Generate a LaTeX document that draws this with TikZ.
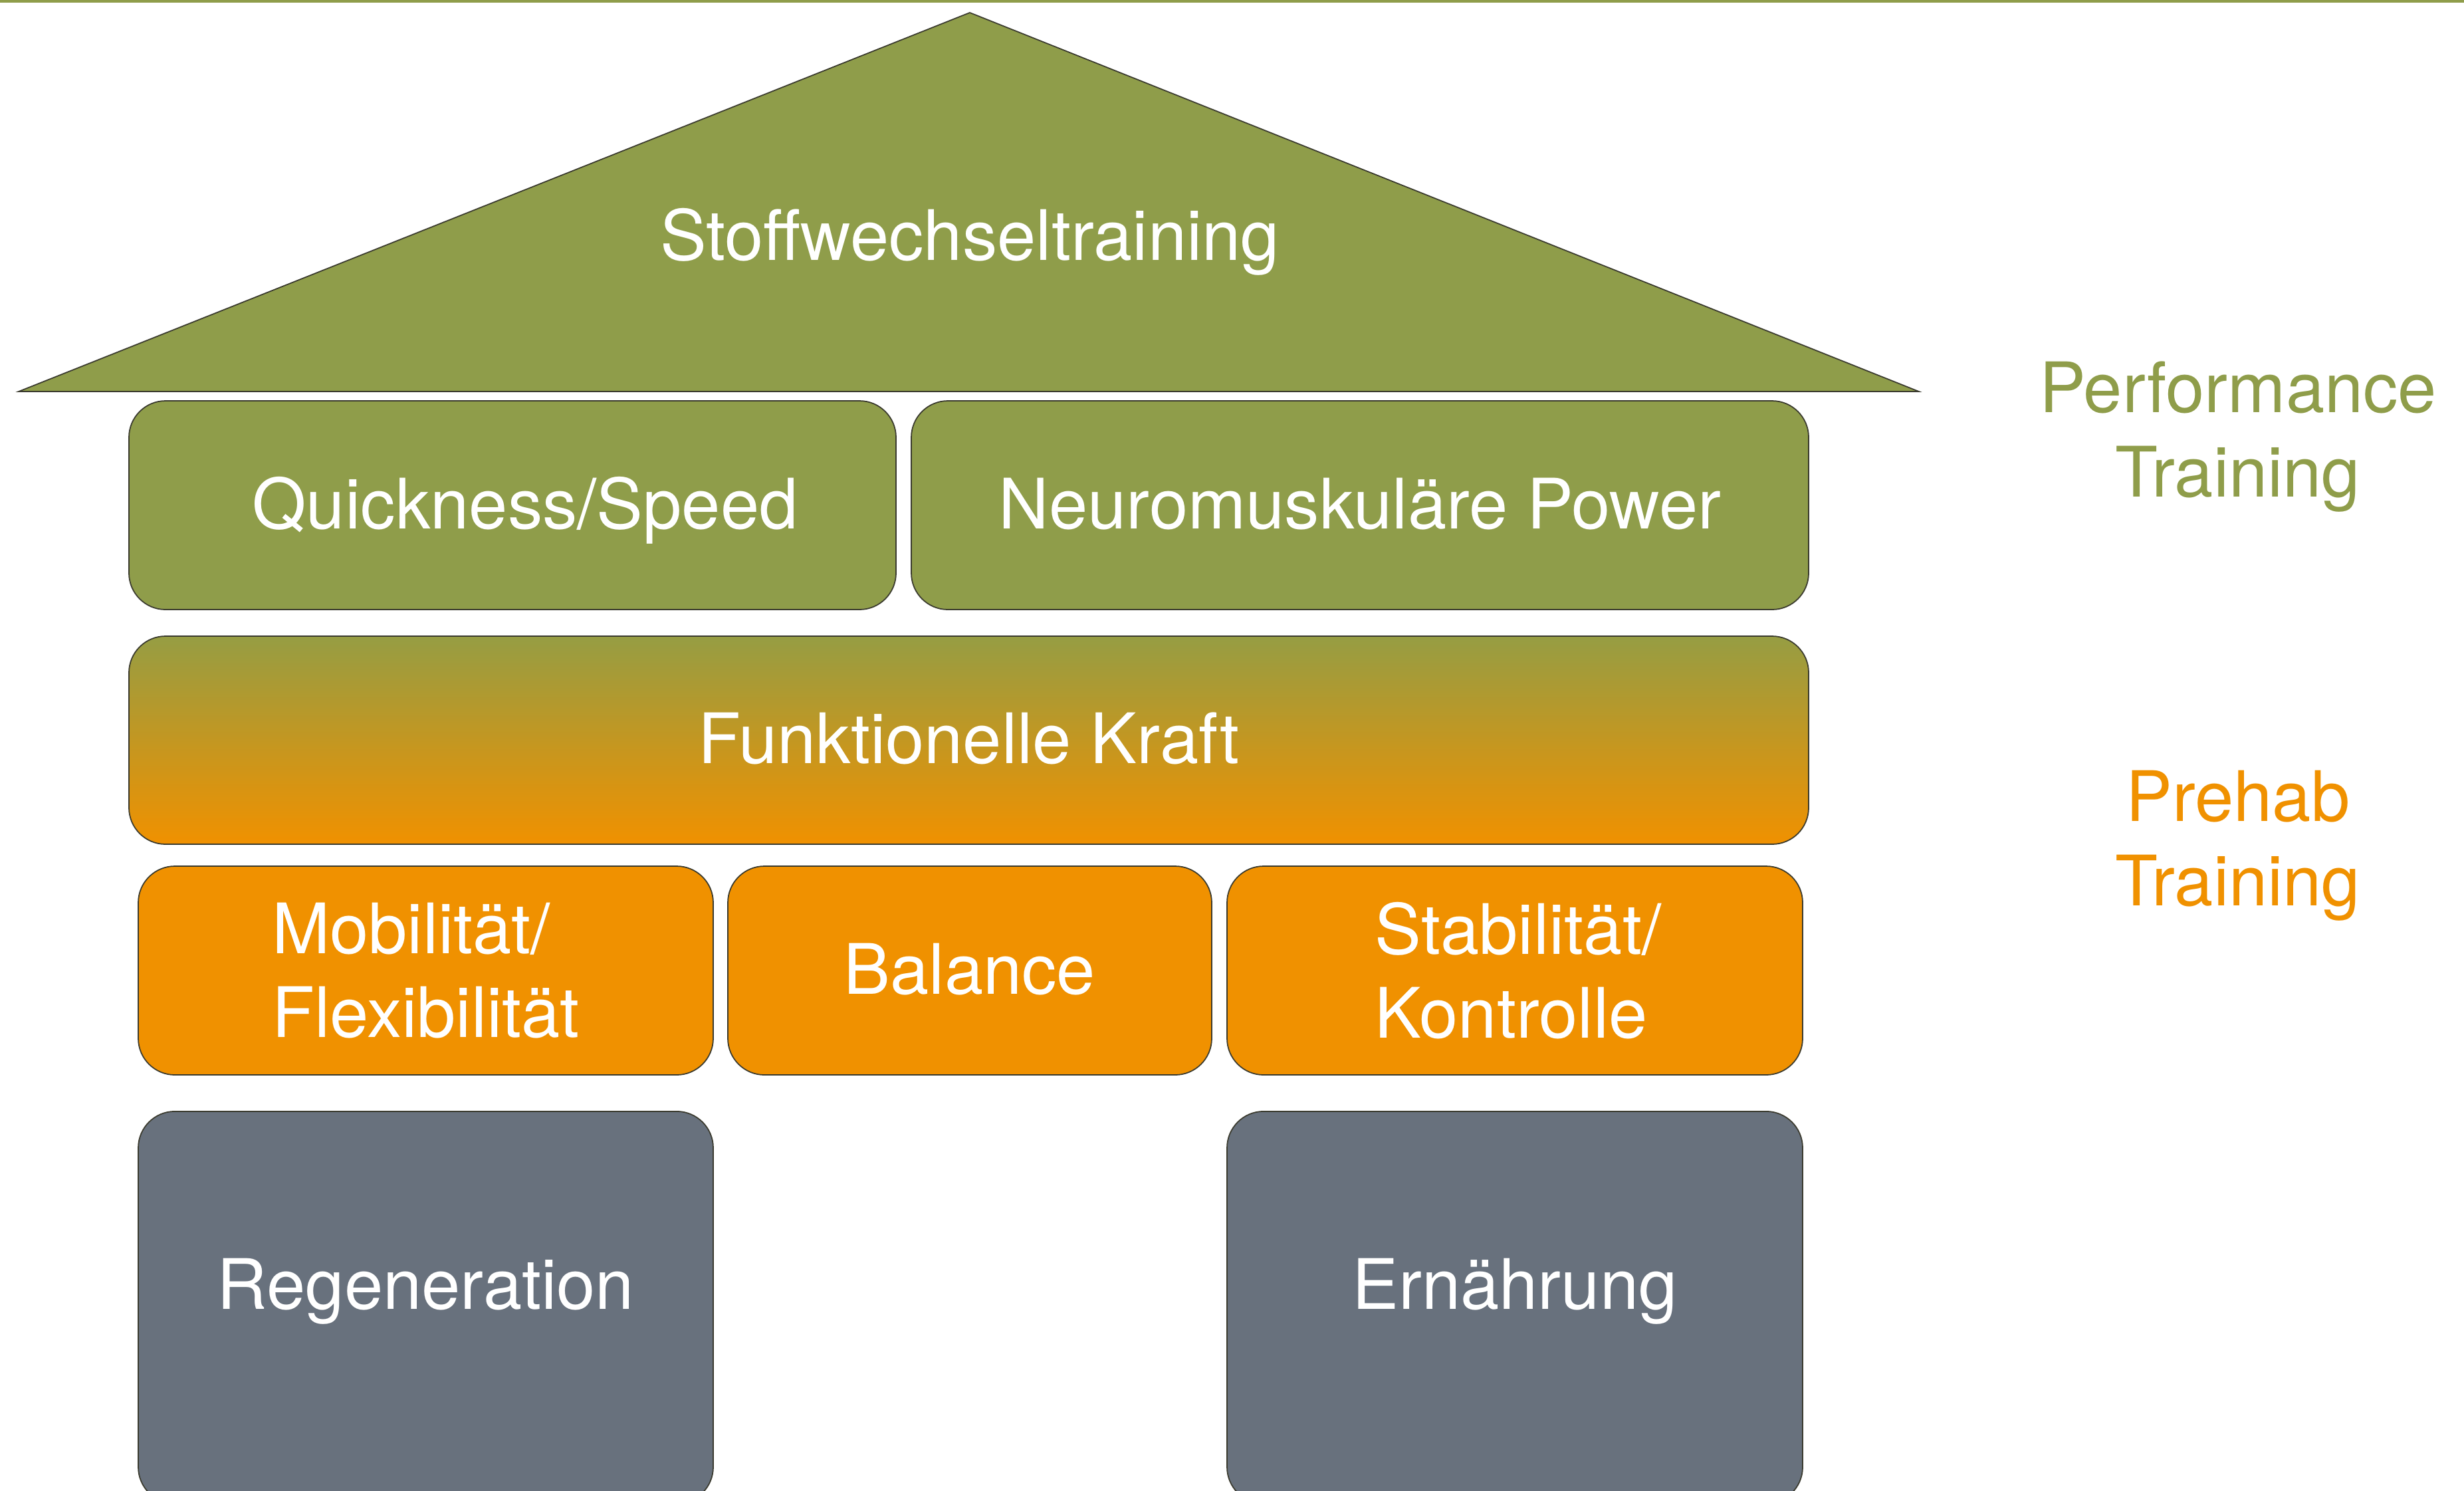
\documentclass[tikz,border=0pt]{standalone}
\usepackage{fontspec}
\setmainfont{TeX Gyre Heros}
\usetikzlibrary{positioning}
\definecolor{perfgreen}{HTML}{8F9D4A}
\definecolor{prehaborange}{HTML}{F09100}
\definecolor{basegray}{HTML}{68717D}
\definecolor{blendtop}{HTML}{969D43}
\definecolor{edgeline}{HTML}{3A3A2E}

\begin{document}
\begin{tikzpicture}[font=\fontsize{29.8}{36}\selectfont,
block/.style={draw=edgeline,fill=#1,rounded corners=.55cm,line width=.5pt,text=white,inner sep=0pt,align=center,text height=26pt,text depth=6pt},
label/.style={text=#1,align=center,inner sep=0pt}]
\useasboundingbox (0,0) rectangle (37.07,-22.42);
% thin rule along the top edge
\fill[perfgreen] (0,0) rectangle (37.07,-.04);
% roof
\draw[fill=perfgreen,draw=edgeline,line width=.5pt] (.28,-5.89)--(14.59,-.19)--(28.87,-5.89)--cycle;
\node[label=white] (roof) at (14.59,-3.64) {Stoffwechseltraining};
% performance level
\node[block=perfgreen,minimum width=11.54cm,minimum height=3.14cm] (quick) at (7.71,-7.60) {};
\node[label=white,text height=26pt,text depth=6pt,xshift=.19cm] (quicktext) at (quick) {Quickness/Speed};
\node[block=perfgreen,minimum width=13.50cm,minimum height=3.14cm] (power) at (20.46,-7.60) {Neuromuskuläre Power};
% strength band, green fading into orange
\node[block=white,top color=blendtop,bottom color=prehaborange,minimum width=25.27cm,minimum height=3.13cm] (kraft) at (14.575,-11.135) {Funktionelle Kraft};
% prehab level
\node[block=prehaborange,minimum width=8.65cm,minimum height=3.14cm] (mobil) at (6.405,-14.60) {};
\node[label=white,align=left] (mobiltext) at (mobil) {Mobilität/\\Flexibilität};
\node[block=prehaborange,minimum width=7.28cm,minimum height=3.14cm] (balance) at (14.59,-14.60) {Balance};
\node[block=prehaborange,minimum width=8.66cm,minimum height=3.14cm] (stabil) at (22.79,-14.60) {};
\node[label=white,align=left,xshift=.05cm] (stabiltext) at (stabil) {Stabilität/\\Kontrolle};
% foundation, running off the bottom edge
\node[block=basegray,minimum width=8.65cm,minimum height=5.9cm,anchor=north] (regen) at (6.405,-16.71) {};
\node[label=white] (regentext) at (6.405,-19.43) {Regeneration};
\node[block=basegray,minimum width=8.66cm,minimum height=5.9cm,anchor=north] (food) at (22.79,-16.71) {};
\node[label=white] (foodtext) at (22.79,-19.43) {Ernährung};
% side captions
\node[label=perfgreen] (perf) at (33.67,-6.57) {Performance\\Training};
\node[label=prehaborange] (prehab) at (33.67,-12.72) {Prehab\\Training};
\end{tikzpicture}
\end{document}
